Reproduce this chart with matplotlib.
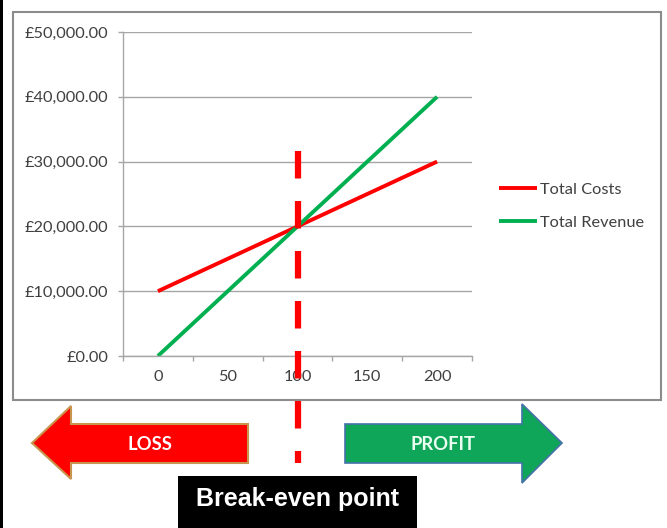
import matplotlib
matplotlib.use("Agg")
import matplotlib.pyplot as plt
from matplotlib.patches import Polygon, Rectangle
from matplotlib.transforms import blended_transform_factory
from matplotlib.ticker import FuncFormatter

# ---- data ----
units = [0, 50, 100, 150, 200]
total_costs = [10000, 15000, 20000, 25000, 30000]
total_revenue = [0, 10000, 20000, 30000, 40000]
y_ticks = [0, 10000, 20000, 30000, 40000, 50000]
break_even_index = 2  # category "100"

W, H = 667, 528
fig = plt.figure(figsize=(W / 100, H / 100), dpi=100)
fig.patch.set_facecolor("white")

def fx(x):
    return x / W

def fy(y):
    return 1 - y / H

FONT = "Lato"
TXT = "#404040"
FS = 11.8

# outer black left border
fig.add_artist(Rectangle((0, 0), fx(3), 1, transform=fig.transFigure,
                         facecolor="black", edgecolor="none"))
# chart frame
fig.add_artist(Rectangle((fx(13), fy(400)), fx(661 - 13), (400 - 12) / H,
                         transform=fig.transFigure, facecolor="none",
                         edgecolor="#8c8c8c", lw=1.5))

ax = fig.add_axes([fx(123), fy(356), fx(472 - 123), (356 - 32) / H])
idx = list(range(len(units)))
ax.plot(idx, total_costs, color="#ff0000", lw=2.8, label="Total Costs",
        solid_capstyle="butt")
ax.plot(idx, total_revenue, color="#00b050", lw=2.8, label="Total Revenue",
        solid_capstyle="butt")
ax.set_xlim(-0.5, len(units) - 0.5)
ax.set_ylim(0, 50000)
ax.set_yticks(y_ticks)
ax.yaxis.set_major_formatter(FuncFormatter(lambda v, p: "£{:,.2f}".format(v)))
ax.set_xticks(idx)
ax.set_xticklabels([str(u) for u in units])
ax.set_xticks([i - 0.5 for i in range(len(units) + 1)], minor=True)
ax.tick_params(axis="x", which="major", length=0, pad=10)
ax.tick_params(axis="x", which="minor", length=3.6, color="#a6a6a6", width=1)
ax.tick_params(axis="y", length=3.6, color="#a6a6a6", width=1, pad=7)
for lab in ax.get_xticklabels() + ax.get_yticklabels():
    lab.set_fontfamily(FONT)
    lab.set_fontsize(FS)
    lab.set_color(TXT)
ax.grid(axis="y", color="#a6a6a6", lw=1)
ax.set_axisbelow(True)
for s in ["top", "right"]:
    ax.spines[s].set_visible(False)
for s in ["left", "bottom"]:
    ax.spines[s].set_color("#a6a6a6")
    ax.spines[s].set_linewidth(1)

leg = ax.legend(loc="center left", bbox_to_anchor=(fx(499), fy(206)),
                bbox_transform=fig.transFigure, frameon=False,
                prop={"family": FONT, "size": FS}, handlelength=2.3,
                handletextpad=0.2, labelspacing=1.15, borderaxespad=0,
                borderpad=0)
for t in leg.get_texts():
    t.set_color(TXT)

# dashed break-even line (x in data, y in figure)
tr = blended_transform_factory(ax.transData, fig.transFigure)
ax.plot([break_even_index, break_even_index], [fy(151), fy(463)], transform=tr,
        color="#ff0000", lw=4.5, dashes=(4.4, 3.6), clip_on=False, zorder=5)

# LOSS arrow
loss = [(248, 424), (71, 424), (71, 406), (32, 443), (71, 479), (71, 463),
        (248, 463)]
fig.add_artist(Polygon([(fx(x), fy(y)) for x, y in loss], closed=True,
                       transform=fig.transFigure, facecolor="#ff0000",
                       edgecolor="#c8954f", lw=1.5))
fig.text(fx(150), fy(444), "LOSS", family=FONT, weight="bold", fontsize=13.2,
         color="white", ha="center", va="center")

# PROFIT arrow
profit = [(345, 424), (522, 424), (522, 404), (562, 443), (522, 483),
          (522, 463), (345, 463)]
fig.add_artist(Polygon([(fx(x), fy(y)) for x, y in profit], closed=True,
                       transform=fig.transFigure, facecolor="#10a65a",
                       edgecolor="#4472a8", lw=1.2))
fig.text(fx(443), fy(444), "PROFIT", family=FONT, weight="bold", fontsize=13.2,
         color="#eafff2", ha="center", va="center")

# Break-even label box
fig.add_artist(Rectangle((fx(178), 0), fx(417 - 178), (528 - 476) / H,
                         transform=fig.transFigure, facecolor="black",
                         edgecolor="none"))
fig.text(fx(297.5), fy(499), "Break-even point", family="Liberation Sans",
         weight="bold", fontsize=18, color="white", ha="center", va="center")

fig.savefig("out.png", dpi=100)
